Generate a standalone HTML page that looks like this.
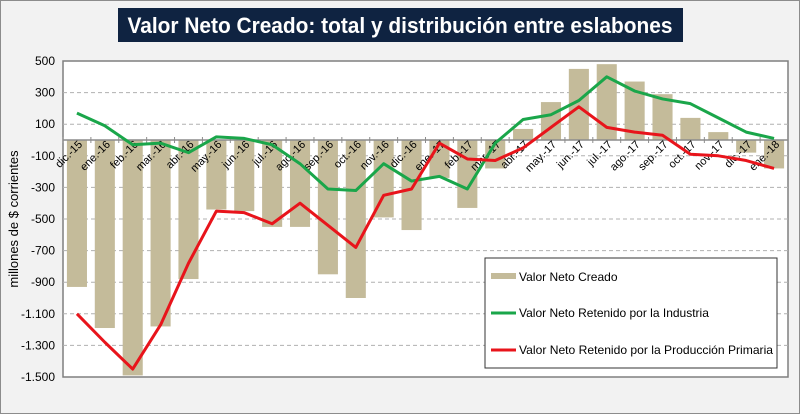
<!DOCTYPE html>
<html><head><meta charset="utf-8"><style>
html,body{margin:0;padding:0;background:#f2f2f2}
svg{display:block;font-family:"Liberation Sans",sans-serif}
</style></head><body>
<svg id="c" width="800" height="414" viewBox="0 0 800 414">
<rect x="0.5" y="0.5" width="799" height="413" fill="#f2f2f2" stroke="#8c8c8c"/>
<rect x="118" y="8" width="565" height="34" fill="#0f2341"/>
<text x="400" y="33" text-anchor="middle" fill="#fff" font-size="22" font-weight="bold" textLength="545" lengthAdjust="spacingAndGlyphs">Valor Neto Creado: total y distribución entre eslabones</text>
<rect x="63" y="61" width="725" height="316" fill="#fff" stroke="#7f7f7f" stroke-width="1.5"/>
<text transform="translate(18,219) rotate(-90)" text-anchor="middle" font-size="13" fill="#000">millones de $ corrientes</text>
<g id="grid"></g><g id="bars"></g><g id="xt"></g><g id="lines"></g>
<g>
<rect x="485" y="258" width="292" height="110" fill="#fff" stroke="#333"/>
<rect x="491" y="273" width="25" height="6" fill="#c4bb9a"/>
<text x="519" y="281" font-size="12">Valor Neto Creado</text>
<line x1="491" y1="313" x2="516" y2="313" stroke="#1aa64a" stroke-width="3"/>
<text x="519" y="317" font-size="12">Valor Neto Retenido por la Industria</text>
<line x1="491" y1="350" x2="516" y2="350" stroke="#e8141b" stroke-width="3"/>
<text x="519" y="354" font-size="12" textLength="254" lengthAdjust="spacingAndGlyphs">Valor Neto Retenido por la Producción Primaria</text>
</g>
</svg>
<script>
const categories=["dic.-15","ene.-16","feb.-16","mar.-16","abr.-16","may.-16","jun.-16","jul.-16","ago.-16","sep.-16","oct.-16","nov.-16","dic.-16","ene.-17","feb.-17","mar.-17","abr.-17","may.-17","jun.-17","jul.-17","ago.-17","sep.-17","oct.-17","nov.-17","dic.-17","ene.-18"];
const valorCreado=[-930,-1190,-1490,-1180,-880,-440,-450,-550,-550,-850,-1000,-490,-570,-240,-430,-180,70,240,450,480,370,290,140,50,-80,-180];
const retenidoIndustria=[170,90,-30,-20,-80,20,10,-30,-150,-310,-320,-150,-260,-230,-310,-20,130,160,250,400,310,260,230,140,50,10];
const retenidoPrimaria=[-1100,-1280,-1450,-1170,-780,-450,-460,-530,-400,-540,-680,-350,-310,-20,-120,-130,-50,80,210,80,50,30,-90,-100,-130,-180];
const yTicks=[500,300,100,-100,-300,-500,-700,-900,-1100,-1300,-1500];
const yLabels=["500","300","100","-100","-300","-500","-700","-900","-1.100","-1.300","-1.500"];
const NS="http://www.w3.org/2000/svg";
const X0=63,W=725,Y0=61,H=316,YMAX=500,YMIN=-1500;
const bw=W/categories.length;
function y(v){return Y0+(YMAX-v)/(YMAX-YMIN)*H;}
function xc(i){return X0+bw*(i+0.5);}
function mk(t,a,p){const e=document.createElementNS(NS,t);for(const k in a)e.setAttribute(k,a[k]);p.appendChild(e);return e;}
const grid=document.getElementById('grid');
yTicks.forEach((v,i)=>{
  if(v<YMAX&&v>YMIN){const l=mk('line',{x1:X0,x2:X0+W,y1:y(v),y2:y(v),stroke:'#b0b0b0','stroke-dasharray':'4,3'},grid);
  
  }
  const t=mk('text',{x:55,y:y(v)+4,'text-anchor':'end','font-size':12},grid);t.textContent=yLabels[i];
  
  
});
const bars=document.getElementById('bars');
valorCreado.forEach((v,i)=>{
  const r=mk('rect',{x:xc(i)-bw*0.36,width:bw*0.72,y:Math.min(y(v),y(0)),height:Math.abs(y(v)-y(0)),fill:'#c4bb9a'},bars);
  
  
});
const xt=document.getElementById('xt');
const ax=mk('line',{x1:X0,x2:X0+W,y1:y(0),y2:y(0),stroke:'#8c8c8c','stroke-width':1.5},xt);


categories.forEach((c,i)=>{
  mk('line',{x1:X0+bw*i,x2:X0+bw*i,y1:y(0)-3,y2:y(0)+3,stroke:'#8c8c8c'},xt);
  const t=mk('text',{transform:`translate(${xc(i)+6},${y(0)+5}) rotate(-45)`,'text-anchor':'end','font-size':11},xt);
  t.textContent=c;
  
  
});
const lines=document.getElementById('lines');
function line(d,col,name){
  const p=mk('polyline',{points:d.map((v,i)=>xc(i)+','+y(v)).join(' '),fill:'none',stroke:col,'stroke-width':3,'stroke-linejoin':'round'},lines);
  
  
}
line(retenidoIndustria,'#1aa64a','line-industria');
line(retenidoPrimaria,'#e8141b','line-primaria');
</script>
</body></html>
